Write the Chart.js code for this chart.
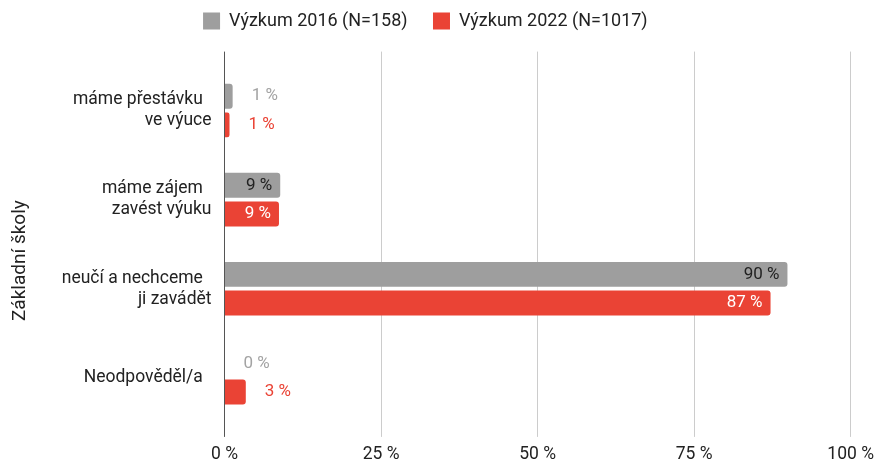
<!DOCTYPE html>
<html><head><meta charset="utf-8">
<script src="https://cdn.jsdelivr.net/npm/chart.js@4/dist/chart.umd.min.js"></script>
<style>html,body{margin:0;padding:0;background:#fff}#wrap{width:876px;height:465px;position:relative}</style>
</head><body><div id="wrap"><canvas id="c"></canvas></div>
<script>
const categories = [['máme přestávku', 've výuce'], ['máme zájem', 'zavést výuku'], ['neučí a nechceme', 'ji zavádět'], ['Neodpověděl/a']];
const seriesNames = ['Výzkum 2016 (N=158)', 'Výzkum 2022 (N=1017)'];
const values2016 = [1.3, 8.9, 89.9, 0];
const values2022 = [0.8, 8.7, 87.2, 3.4];
const xTickValues = [0, 25, 50, 75, 100];
const xTickLabels = ['0 %', '25 %', '50 %', '75 %', '100 %'];
const axisTitle = 'Základní školy';

const NB = '\u00a0';
const FONT = 'Roboto';
const GRAY = '#9e9e9e', RED = '#ea4335';
const gridColor = (c) => (c.tick && c.tick.value === 0) ? '#555555' : '#cccccc';

const barLabels = {
  id: 'barLabels',
  afterDatasetsDraw(chart) {
    const ctx = chart.ctx;
    ctx.save();
    ctx.font = '17px ' + FONT;
    ctx.textBaseline = 'middle';
    chart.data.datasets.forEach((ds, di) => {
      const meta = chart.getDatasetMeta(di);
      meta.data.forEach((bar, i) => {
        const v = ds.data[i];
        const txt = Math.round(v) + ' %';
        const p = bar.getProps(['x', 'y', 'base'], true);
        if (p.x - p.base > 40) {
          ctx.textAlign = 'right'; ctx.fillStyle = ds.insideLabelColor; ctx.fillText(txt, p.x - 8, p.y);
        } else {
          ctx.textAlign = 'left'; ctx.fillStyle = ds.outsideLabelColor; ctx.fillText(txt, p.x + 19, p.y);
        }
      });
    });
    ctx.restore();
  }
};

new Chart(document.getElementById('c'), {
  type: 'bar',
  data: {
    labels: categories,
    datasets: [
      { label: seriesNames[0], data: values2016, backgroundColor: GRAY, insideLabelColor: '#222222', outsideLabelColor: '#a3a3a3',
        borderRadius: 3, borderSkipped: 'start', categoryPercentage: 0.643, barPercentage: 0.87 },
      { label: seriesNames[1], data: values2022, backgroundColor: RED, insideLabelColor: '#ffffff', outsideLabelColor: RED,
        borderRadius: 3, borderSkipped: 'start', categoryPercentage: 0.643, barPercentage: 0.87 }
    ]
  },
  options: {
    indexAxis: 'y',
    responsive: true,
    maintainAspectRatio: false,
    animation: false,
    layout: { padding: { top: 0, right: 25.3, bottom: 0, left: 0 } },
    plugins: {
      tooltip: { enabled: false },
      legend: {
        position: 'top',
        labels: {
          boxWidth: 17, boxHeight: 17, padding: 12, color: '#222222',
          font: { family: FONT, size: 18 },
          generateLabels: (chart) => {
            const items = Chart.defaults.plugins.legend.labels.generateLabels(chart);
            items.forEach(it => { it.lineWidth = 0; });
            items[0].text += NB + NB + NB;
            return items;
          }
        }
      }
    },
    scales: {
      x: {
        type: 'linear', position: 'bottom', min: 0, max: 100,
        afterBuildTicks: (s) => { s.ticks = xTickValues.map(v => ({ value: v })); },
        afterFit: (s) => { s.height = 42.7; s.paddingLeft = 0; s.paddingRight = 0; },
        ticks: { callback: (v, i) => xTickLabels[i], color: '#222222', padding: 9.25,
                 font: { family: FONT, size: 17.5, lineHeight: 1 }, maxRotation: 0 },
        grid: { color: gridColor, lineWidth: 1, tickLength: 14.6 },
        border: { display: false }
      },
      x2: {
        type: 'linear', position: 'top', min: 0, max: 100,
        afterBuildTicks: (s) => { s.ticks = xTickValues.map(v => ({ value: v })); },
        afterFit: (s) => { s.height = 26; s.paddingLeft = 0; s.paddingRight = 0; },
        ticks: { callback: () => '', padding: 0, font: { family: FONT, size: 1, lineHeight: 1 } },
        grid: { color: gridColor, lineWidth: 1, tickLength: 14.4, drawOnChartArea: false },
        border: { display: false }
      },
      y: {
        type: 'category', offset: true,
        afterFit: (s) => { s.width = 224.5; s.paddingTop = 0; s.paddingBottom = 0; },
        ticks: {
          color: '#222222', padding: 5,
          font: { family: FONT, size: 17.5, lineHeight: 1.2 },
          callback: function (v, i) {
            const lines = categories[i];
            return lines.map((l, k) => k === 0 ? l + NB + NB : l);
          }
        },
        grid: { display: false },
        border: { display: false },
        title: { display: true, text: axisTitle + NB.repeat(7), color: '#222222', padding: { top: 8.6, bottom: 0 },
                 font: { family: FONT, size: 19, lineHeight: 1.2 } }
      }
    }
  },
  plugins: [barLabels]
});
</script>
</body></html>
